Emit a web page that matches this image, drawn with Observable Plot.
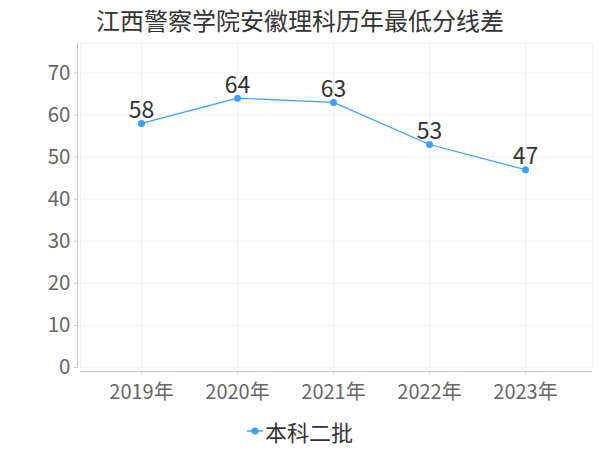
<!DOCTYPE html>
<html><head><meta charset="utf-8">
<script src="https://cdn.jsdelivr.net/npm/d3@7"></script>
<script src="https://cdn.jsdelivr.net/npm/@observablehq/plot@0.6"></script>
<style>
body{margin:0;background:#fff;font-family:"Noto Sans CJK SC",sans-serif;width:600px;}
#title{height:40px;line-height:40px;text-align:center;font-size:24px;color:#333;}
#legend{height:38px;display:flex;align-items:center;justify-content:center;font-size:22px;color:#333;}
#legend svg{margin-right:2px;}
</style></head><body>
<div id="title">江西警察学院安徽理科历年最低分线差</div>
<div id="chart"></div>
<div id="legend"></div>
<script>
const years = ["2019年","2020年","2021年","2022年","2023年"];
const scores = [58, 64, 63, 53, 47];
const yTicks = [0, 10, 20, 30, 40, 50, 60, 70];
const seriesName = "本科二批";
const color = "#3da0ff";
const data = years.map((y, i) => ({year: y, score: scores[i]}));

const plot = Plot.plot({
  width: 600, height: 372,
  marginLeft: 80, marginRight: 8, marginTop: 3, marginBottom: 45,
  style: {fontFamily: "Noto Sans CJK SC", fontSize: "20px", color: "#666", background: "#fff"},
  x: {type: "point", domain: years, padding: 0.66, align: 0.48, label: null},
  y: {domain: [0, 77], label: null},
  marks: [
    Plot.frame({stroke: "#f2f2f2"}),
    Plot.gridY(yTicks, {stroke: "#f2f2f2", strokeOpacity: 1}),
    Plot.gridX(years, {stroke: "#f2f2f2", strokeOpacity: 1}),
    Plot.frame({anchor: "left", stroke: "#c8c8c8", dx: -3}),
    Plot.ruleY([0], {stroke: "#c8c8c8", dy: 4}),
    Plot.axisY(yTicks, {tickSize: 3, dx: -3, tickPadding: 4, stroke: "#c8c8c8", fill: "#666", fontSize: 20.5, label: null}),
    Plot.axisX(years, {tickSize: 3, dy: 4, tickPadding: 10, stroke: "#c8c8c8", fill: "#666", fontSize: 20, label: null}),
    Plot.line(data, {x: "year", y: "score", stroke: color, strokeWidth: 1.2}),
    Plot.dot(data, {x: "year", y: "score", fill: color, r: 3.5}),
    Plot.text(data, {x: "year", y: "score", text: d => String(d.score), dy: -13, fontSize: 23, fill: "#333"})
  ]
});
document.getElementById("chart").appendChild(plot);

const lg = document.getElementById("legend");
lg.innerHTML = `<svg width="16" height="12"><line x1="0" y1="6" x2="16" y2="6" stroke="${color}" stroke-width="1.5"/><circle cx="8" cy="6" r="3.5" fill="${color}"/></svg><span>${seriesName}</span>`;
</script>
</body></html>
